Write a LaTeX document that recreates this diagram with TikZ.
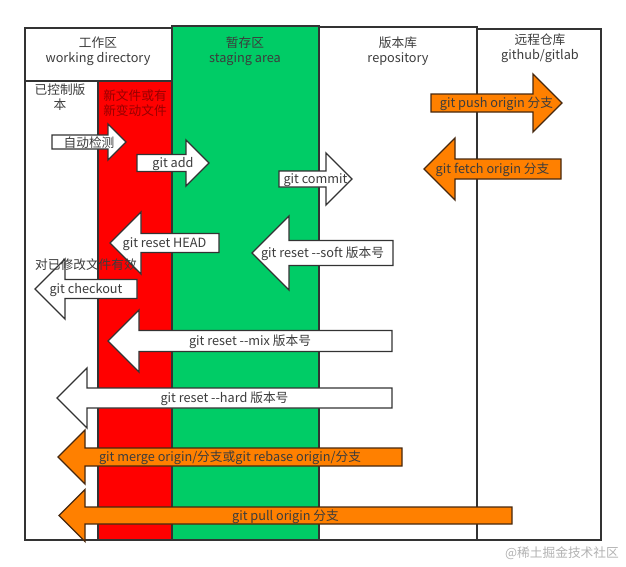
\documentclass[tikz,border=0pt]{standalone}
\usepackage{fontspec}
\usepackage{tikz}
\newfontfamily\guifont{Noto Sans CJK SC}
\definecolor{stagegreen}{RGB}{0,204,102}
\definecolor{pushorange}{RGB}{255,128,0}
\definecolor{edgegray}{RGB}{51,51,51}
\definecolor{darkbrown}{RGB}{70,40,15}
\definecolor{textgray}{RGB}{60,60,60}
\definecolor{newred}{RGB}{150,0,0}

\begin{document}
\begin{tikzpicture}[
    x=1pt, y=-1pt,
    every node/.style={font=\guifont\fontsize{12.7}{15}\selectfont, text=textgray, inner sep=0pt, align=center},
    area/.style={draw=edgegray, line width=1.3pt},
    whitearrow/.style={fill=white, draw=edgegray},
    orangearrow/.style={fill=pushorange, draw=darkbrown},
    barrow/.style={line width=1.3pt, line join=miter}
  ]
  \useasboundingbox (0,0) rectangle (626,566);
  % columns
  \draw[area, fill=white] (25,28) rectangle (172,81);
  \draw[area, fill=white] (25,81) rectangle (98,540);
  \draw[area, fill=red] (98,81) rectangle (172,540);
  \draw[area] (319,27) rectangle (477,540);
  \draw[area] (477,29) rectangle (601,540);
  \draw[area, fill=stagegreen] (172,26) rectangle (319,540);
  % headings
  \node (workdir) at (98,51) {工作区\\working directory};
  \node (staging) at (245,51) {暂存区\\staging area};
  \node (repo) at (398,51) {版本库\\repository};
  \node (remote) at (540,48) {远程仓库\\github/gitlab};
  % block arrows
  \foreach \nm/\fc/\xa/\xb/\yy/\bh/\hh/\txt in {
      detect/whitearrow/52/126/142/7/18/自动检测,
      add/whitearrow/137/209/163/8.5/23/git add,
      commit/whitearrow/279/352/179/8/26/git commit,
      push/orangearrow/431/562/103/9/29/git push origin 分支,
      fetch/orangearrow/561/424/169/10/31/git fetch origin 分支,
      resethead/whitearrow/219/110/243/9.5/31/git reset HEAD,
      resetsoft/whitearrow/393/252/253/12.5/37/git reset --soft 版本号,
      checkout/whitearrow/137/35/289/9.5/30/git checkout,
      resetmix/whitearrow/392/108/341/10.5/31/git reset --mix 版本号,
      resethard/whitearrow/392/57/398/10/30/git reset --hard 版本号,
      merge/orangearrow/402/58/457/9/27/{git merge origin/分支或git rebase origin/分支},
      pull/orangearrow/512/59/515.5/8.5/26/git pull origin 分支}{
    \pgfmathsetmacro\dir{\xb>\xa ? 1 : -1}
    \pgfmathsetmacro\xh{\xb-\dir*\hh}
    \draw[barrow, \fc] (\xa,\yy-\bh) -- (\xh,\yy-\bh) -- (\xh,\yy-\hh) -- (\xb,\yy)
      -- (\xh,\yy+\hh) -- (\xh,\yy+\bh) -- (\xa,\yy+\bh) -- cycle;
    \node (\nm) at ({(\xa+\xb)/2},\yy+1) {\txt};
  }
  % notes
  \node (tracked) at (60,97) {已控制版\\本};
  \node[text=newred] (untracked) at (135,103) {新文件或有\\新变动文件};
  \node (modified) at (86,265) {对已修改文件有效};
  \node[text=black!30] (mark) at (562,553) {@稀土掘金技术社区};
\end{tikzpicture}
\end{document}
